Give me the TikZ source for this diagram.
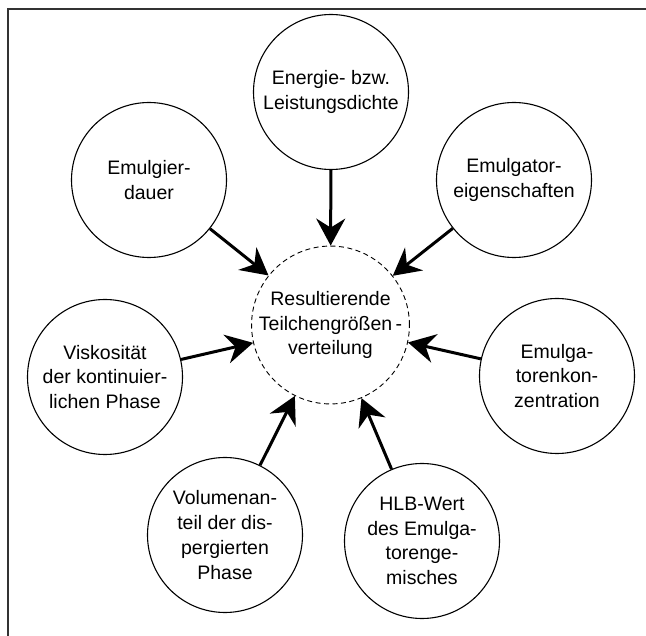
\documentclass[tikz,border=0pt]{standalone}
\usepackage{fontspec}
\setmainfont{Liberation Sans}
\usetikzlibrary{arrows.meta}
\begin{document}
\begin{tikzpicture}[x=1pt,y=-1pt,
  factor/.style={circle,draw,line width=1.1pt,minimum size=155pt,inner sep=0pt,
    align=center,font=\fontsize{19.5}{24.7}\selectfont},
  result/.style={factor,dash pattern=on 5pt off 3.5pt,line width=0.9pt},
  influence/.style={line width=3pt,-{Stealth[length=27pt,width=29pt,inset=9pt]}}]
\useasboundingbox (0,0) rectangle (646,636);
% frame (top and left edge)
\draw[line width=2pt,black!80] (7.5,636) -- (7.5,9) -- (646,9);

% central quantity
\node[result] (c) at (330.5,325) {Resultierende\\Teilchengrößen\,-\\verteilung};

% influencing factors
\node[factor] (energie) at (331,92)  {Energie- bzw.\\Leistungsdichte};
\node[factor] (dauer)   at (149,180) {Emulgier-\\dauer};
\node[factor] (eigen)   at (514,180) {Emulgator-\\eigenschaften};
\node[factor] (visk)    at (105,377) {Viskosität\\der kontinuier-\\lichen Phase};
\node[factor] (konz)    at (557,376) {Emulga-\\torenkon-\\zentration};
\node[factor] (vol)     at (225,535) {Volumenan-\\teil der dis-\\pergierten\\Phase};
\node[factor] (hlb)     at (422,541) {HLB-Wert\\des Emulga-\\torenge-\\misches};

% arrows towards the centre
\foreach \f in {energie,dauer,eigen,visk,konz,vol,hlb}
  \draw[influence] (\f) -- (c);
\end{tikzpicture}
\end{document}
